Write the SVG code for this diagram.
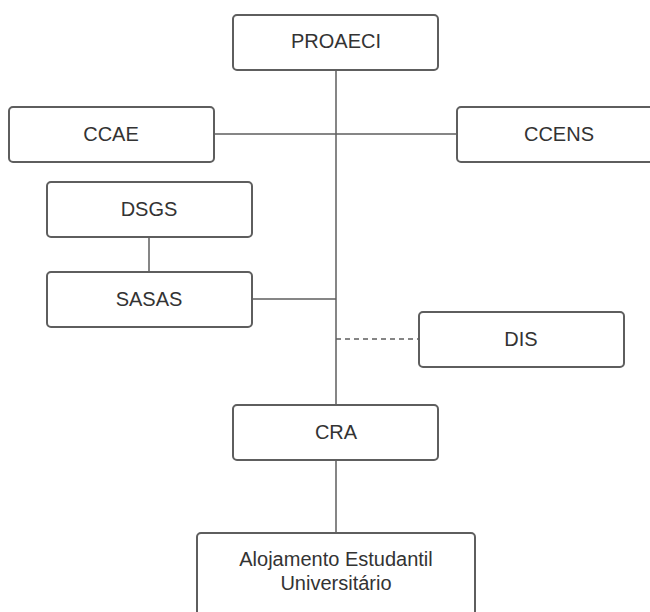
<svg xmlns="http://www.w3.org/2000/svg" width="650" height="612" viewBox="0 0 650 612">
<style>
.box{fill:#fff;stroke:#5e5e5e;stroke-width:2}
.t{font-family:"Liberation Sans",Arial,sans-serif;font-size:20px;fill:#333;text-anchor:middle}
.c{stroke:#5e5e5e;stroke-width:1.5;fill:none}
.d{stroke-dasharray:5 4}
</style>
<rect width="650" height="612" fill="#fff"/>
<g id="connectors">
<line class="c" x1="336" y1="70" x2="336" y2="405"/>
<line class="c" x1="214" y1="134" x2="457" y2="134"/>
<line class="c" x1="149" y1="237" x2="149" y2="272"/>
<line class="c" x1="252" y1="299" x2="336" y2="299"/>
<line class="c d" x1="336" y1="339" x2="419" y2="339"/>
<line class="c" x1="336" y1="460" x2="336" y2="533"/>
</g>
<g id="PROAECI"><rect class="box" x="233" y="15" width="205" height="55" rx="4"/><text class="t" x="336" y="48">PROAECI</text></g>
<g id="CCAE"><rect class="box" x="9" y="107" width="205" height="55" rx="4"/><text class="t" x="111" y="141">CCAE</text></g>
<g id="CCENS"><rect class="box" x="457" y="107" width="205" height="55" rx="4"/><text class="t" x="559" y="141">CCENS</text></g>
<g id="DSGS"><rect class="box" x="47" y="182" width="205" height="55" rx="4"/><text class="t" x="149" y="216">DSGS</text></g>
<g id="SASAS"><rect class="box" x="47" y="272" width="205" height="55" rx="4"/><text class="t" x="149" y="306">SASAS</text></g>
<g id="DIS"><rect class="box" x="419" y="312" width="205" height="55" rx="4"/><text class="t" x="521" y="346">DIS</text></g>
<g id="CRA"><rect class="box" x="233" y="405" width="205" height="55" rx="4"/><text class="t" x="336" y="439">CRA</text></g>
<g id="Alojamento"><rect class="box" x="197" y="533" width="278" height="90" rx="4"/><text class="t" x="336" y="566">Alojamento Estudantil</text><text class="t" x="336" y="590">Universitário</text></g>
</svg>
